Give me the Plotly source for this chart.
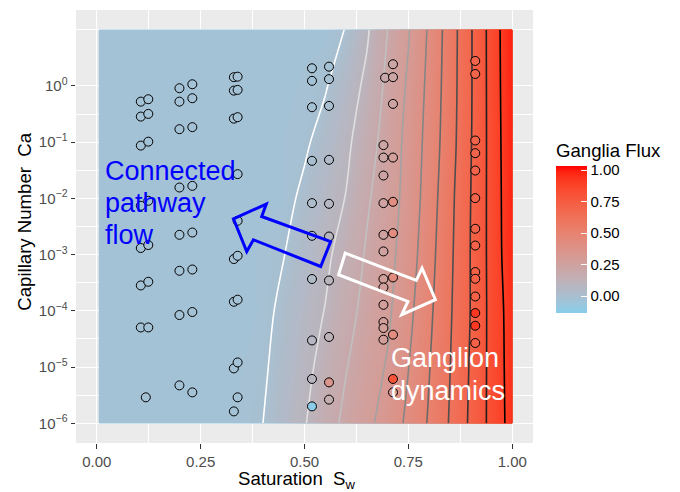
import numpy as np
import plotly.graph_objects as go

# ---------------- data ----------------
# fitted Ganglia-flux surface read off the raster (rows: log10 Ca, columns: Sw)
sw_grid = [0.005, 0.30, 0.35, 0.40, 0.45, 0.50, 0.55, 0.60, 0.65, 0.70, 0.75, 0.80, 0.85, 0.90, 0.95, 1.00]
log_ca_grid = [-6, -5, -4, -3, -2, -1, 0, 1]
flux_grid = [
    [-0.03, -0.03, -0.019, 0.000, 0.047, 0.094, 0.159, 0.222, 0.276, 0.342, 0.420, 0.510, 0.607, 0.717, 0.827, 0.940],
    [-0.03, -0.03, -0.024, -0.011, 0.032, 0.076, 0.130, 0.196, 0.251, 0.309, 0.398, 0.496, 0.598, 0.710, 0.828, 0.945],
    [-0.03, -0.03, -0.030, -0.022, 0.019, 0.060, 0.103, 0.168, 0.228, 0.283, 0.373, 0.480, 0.589, 0.703, 0.829, 0.950],
    [-0.03, -0.03, -0.030, -0.020, -0.002, 0.040, 0.081, 0.140, 0.210, 0.268, 0.350, 0.464, 0.581, 0.703, 0.831, 0.970],
    [-0.03, -0.03, -0.030, -0.030, -0.025, 0.018, 0.060, 0.103, 0.188, 0.255, 0.333, 0.449, 0.573, 0.700, 0.832, 0.975],
    [-0.03, -0.03, -0.030, -0.030, -0.024, -0.013, 0.033, 0.080, 0.155, 0.242, 0.327, 0.436, 0.559, 0.694, 0.833, 0.980],
    [-0.03, -0.03, -0.030, -0.030, -0.030, -0.021, -0.007, 0.052, 0.120, 0.223, 0.313, 0.425, 0.553, 0.691, 0.835, 0.985],
    [-0.03, -0.03, -0.030, -0.030, -0.030, -0.030, -0.030, 0.003, 0.087, 0.200, 0.293, 0.413, 0.549, 0.691, 0.836, 0.990],
]
contour_levels = [0.0, 0.1, 0.2, 0.3, 0.4, 0.5, 0.6, 0.7, 0.8, 0.9]
flux_limits = [-0.135, 1.033]

# measured points
pt_sw = (
    [0.106] * 7 + [0.124] * 7 + [0.118]
    + [0.199] * 8 + [0.230] * 8
    + [0.330] * 7 + [0.339] * 9
    + [0.518] * 10 + [0.559] * 10
    + [0.694] + [0.690] * 12 + [0.713] * 10
    + [0.911] * 14
)
pt_ca = (
    [0.526, 0.285, 0.0869, 0.00738, 0.00131, 2.83e-4, 5.07e-5]
    + [0.580, 0.318, 0.102, 0.00906, 0.00148, 3.29e-4, 5.07e-5] + [2.90e-6]
    + [0.91, 0.526, 0.170, 0.0156, 2.25e-3, 5.16e-4, 8.43e-5, 4.73e-6]
    + [1.07, 0.604, 0.185, 0.0167, 2.47e-3, 5.44e-4, 9.53e-5, 3.55e-6]
    + [1.43, 0.825, 0.262, 8.34e-4, 1.45e-4, 9.48e-6, 1.63e-6]
    + [1.46, 0.849, 0.278, 0.027, 3.99e-3, 9.53e-4, 1.58e-4, 1.21e-5, 2.90e-6]
    + [2.06, 1.23, 0.418, 0.0465, 8.24e-3, 2.16e-3, 3.68e-4, 2.98e-5, 6.15e-6, 2.00e-6]
    + [2.20, 1.32, 0.441, 0.0485, 8.01e-3, 2.10e-3, 3.47e-4, 3.43e-5, 5.35e-6, 2.64e-6]
    + [1.40] + [0.0885, 0.0532, 0.0255, 8.24e-3, 2.25e-3, 1.14e-3, 3.68e-4, 2.61e-4, 1.28e-4, 6.33e-5, 4.95e-5, 3.07e-5]
    + [2.43, 1.43, 0.479, 0.0532, 8.69e-3, 2.41e-3, 3.93e-4, 3.77e-5, 6.15e-6, 3.55e-6]
    + [2.78, 1.63, 0.107, 0.0637, 0.0313, 0.0101, 2.88e-3, 1.45e-3, 4.90e-4, 3.72e-4, 1.80e-4, 9.15e-5, 5.44e-5, 2.68e-5]
)
pt_flux = (
    [-0.03] * 15
    + [-0.03] * 16
    + [-0.03] * 16
    + [-0.03, -0.03, -0.02, 0.00, 0.02, 0.035, 0.045, 0.07, 0.09, -0.12]
    + [-0.02, -0.01, 0.00, 0.04, 0.065, 0.08, 0.095, 0.12, 0.35, 0.15]
    + [0.20] + [0.22, 0.22, 0.23, 0.24, 0.25, 0.25, 0.26, 0.26, 0.27, 0.27, 0.27, 0.28]
    + [0.22, 0.22, 0.23, 0.27, 0.42, 0.42, 0.42, 0.42, 0.80, 0.32]
    + [0.70, 0.70, 0.70, 0.70, 0.70, 0.70, 0.71, 0.71, 0.72, 0.72, 0.72, 0.92, 0.92, 0.72]
)

x_ticks = [0, 0.25, 0.5, 0.75, 1.0]
x_labels = ["0.00", "0.25", "0.50", "0.75", "1.00"]
y_ticks = [1e-6, 1e-5, 1e-4, 1e-3, 1e-2, 1e-1, 1e0]
y_labels = ["10<sup>−6</sup>", "10<sup>−5</sup>", "10<sup>−4</sup>", "10<sup>−3</sup>",
            "10<sup>−2</sup>", "10<sup>−1</sup>", "10<sup>0</sup>"]
cb_ticks = [0, 0.25, 0.5, 0.75, 1.0]
cb_labels = ["0.00", "0.25", "0.50", "0.75", "1.00"]


# ---------------- colour helpers (CIELAB ramps like ggplot) ----------------
def _lin(c):
    return c / 12.92 if c <= 0.04045 else ((c + 0.055) / 1.055) ** 2.4


def _gam(c):
    c = min(max(c, 0.0), 1.0)
    return 12.92 * c if c <= 0.0031308 else 1.055 * c ** (1 / 2.4) - 0.055


WHITE = (0.95047, 1.0, 1.08883)


def rgb2lab(rgb):
    r, g, b = [_lin(v / 255) for v in rgb]
    X = 0.4124564 * r + 0.3575761 * g + 0.1804375 * b
    Y = 0.2126729 * r + 0.7151522 * g + 0.0721750 * b
    Z = 0.0193339 * r + 0.1191920 * g + 0.9503041 * b
    def f(t):
        return t ** (1 / 3) if t > (6 / 29) ** 3 else t / (3 * (6 / 29) ** 2) + 4 / 29
    fx, fy, fz = f(X / WHITE[0]), f(Y / WHITE[1]), f(Z / WHITE[2])
    return (116 * fy - 16, 500 * (fx - fy), 200 * (fy - fz))


def lab2rgb(lab):
    L, a, b = lab
    fy = (L + 16) / 116
    fx = fy + a / 500
    fz = fy - b / 200
    def finv(t):
        return t ** 3 if t > 6 / 29 else 3 * (6 / 29) ** 2 * (t - 4 / 29)
    X, Y, Z = WHITE[0] * finv(fx), WHITE[1] * finv(fy), WHITE[2] * finv(fz)
    r = 3.2404542 * X - 1.5371385 * Y - 0.4985314 * Z
    g = -0.9692660 * X + 1.8760108 * Y + 0.0415560 * Z
    bb = 0.0556434 * X - 0.2040259 * Y + 1.0572252 * Z
    return "rgb(%d,%d,%d)" % tuple(round(255 * _gam(v)) for v in (r, g, bb))


def lab_scale(c0, c1, n=25):
    l0, l1 = rgb2lab(c0), rgb2lab(c1)
    out = []
    for t in np.linspace(0, 1, n):
        out.append([float(t), lab2rgb(tuple(l0[i] + t * (l1[i] - l0[i]) for i in range(3)))])
    return out


fill_scale = lab_scale((135, 206, 235), (255, 0, 0))          # skyblue -> red
line_scale = lab_scale((255, 255, 255), (0, 0, 0), n=len(contour_levels))  # white -> black

lo, hi = flux_limits
nb = 100
bsize = (hi - lo) / nb
FONT = "Liberation Sans, Arial, Helvetica, sans-serif"

fig = go.Figure()

# smooth filled surface (on hidden linear log10 axis "y")
fig.add_trace(go.Contour(
    x=sw_grid, y=log_ca_grid, z=flux_grid, yaxis="y",
    colorscale=fill_scale, showscale=False, hoverinfo="skip",
    autocontour=False,
    contours=dict(coloring="fill", start=lo + bsize / 2, end=lo + bsize / 2 + (nb - 0.6) * bsize, size=bsize),
    line=dict(width=0, smoothing=0),
))

# contour lines coloured by level
fig.add_trace(go.Contour(
    x=sw_grid, y=log_ca_grid, z=flux_grid, yaxis="y",
    colorscale=line_scale, showscale=False, hoverinfo="skip",
    autocontour=False,
    contours=dict(coloring="lines", start=contour_levels[0], end=contour_levels[-1],
                  size=contour_levels[1] - contour_levels[0]),
    line=dict(width=1.6, smoothing=1),
))

# points (on the visible log axis "y2", drawn above the surface)
fig.add_trace(go.Scatter(
    x=pt_sw, y=pt_ca, yaxis="y2", mode="markers", showlegend=False,
    marker=dict(size=9, color=pt_flux, colorscale=fill_scale, cmin=lo, cmax=hi,
                line=dict(color="black", width=1),
                showscale=True,
                colorbar=dict(
                    thickness=31, thicknessmode="pixels",
                    len=173, lenmode="pixels",
                    x=(556 - 76) / 457, xanchor="left",
                    y=(443 - 226.5) / 433, yanchor="middle",
                    xpad=0, ypad=0, outlinewidth=0,
                    tickvals=cb_ticks, ticktext=cb_labels,
                    ticks="inside", tickcolor="white", ticklen=6, tickwidth=1,
                    tickfont=dict(family=FONT, size=15, color="black"),
                    title=dict(text="Ganglia Flux", side="top",
                               font=dict(family=FONT, size=18.6, color="black")),
                )),
))

# block arrows (Sw, log10 Ca)
blue_arrow = [(0.329, -2.363), (0.408, -2.102), (0.397, -2.322), (0.563, -2.767),
              (0.539, -3.211), (0.377, -2.736), (0.361, -2.944)]
white_arrow = [(0.598, -2.973), (0.769, -3.458), (0.783, -3.239), (0.815, -3.802),
               (0.734, -4.069), (0.749, -3.833), (0.582, -3.358)]


def poly(pts):
    return "M " + " L ".join("%g,%g" % p for p in pts) + " Z"


shapes = [
    dict(type="path", path=poly(blue_arrow), xref="x", yref="y",
         line=dict(color="#0000FF", width=3), fillcolor="rgba(0,0,0,0)", layer="above"),
    dict(type="path", path=poly(white_arrow), xref="x", yref="y",
         line=dict(color="white", width=3), fillcolor="rgba(0,0,0,0)", layer="above"),
]

ann = []
for txt, yy in [("Connected", -1.505), ("pathway", -2.081), ("flow", -2.655)]:
    ann.append(dict(text=txt, x=0.0145, y=yy, xref="x", yref="y", xanchor="left", yanchor="middle",
                    showarrow=False, font=dict(family=FONT, size=27, color="#0000FF")))
for txt, yy in [("Ganglion", -4.835), ("dynamics", -5.427)]:
    ann.append(dict(text=txt, x=0.7045, y=yy, xref="x", yref="y", xanchor="left", yanchor="middle",
                    showarrow=False, font=dict(family=FONT, size=27, color="white")))
# axis titles
ann.append(dict(text="Saturation  S<sub>w</sub>", x=(296.7 - 76) / 457, y=(443 - 480) / 433,
                xref="paper", yref="paper", xanchor="center", yanchor="middle", showarrow=False,
                font=dict(family=FONT, size=18.6, color="black")))
ann.append(dict(text="Capillary Number  Ca", x=(25 - 76) / 457, y=(443 - 221.7) / 433, textangle=-90,
                xref="paper", yref="paper", xanchor="center", yanchor="middle", showarrow=False,
                font=dict(family=FONT, size=18.6, color="black")))

fig.update_layout(
    width=680, height=492,
    margin=dict(l=76, r=147, t=10, b=49),
    paper_bgcolor="white", plot_bgcolor="#EBEBEB",
    showlegend=False,
    shapes=shapes, annotations=ann,
    xaxis=dict(range=[-0.05, 1.05], tickvals=x_ticks, ticktext=x_labels,
               showgrid=True, gridcolor="white", gridwidth=1.4, zeroline=False,
               minor=dict(tickvals=[0.125, 0.375, 0.625, 0.875], showgrid=True,
                          gridcolor="white", gridwidth=0.7, ticks=""),
               ticks="outside", ticklen=4.5, tickwidth=1, tickcolor="#333333",
               tickfont=dict(family=FONT, size=15, color="#4D4D4D"), showline=False),
    yaxis=dict(range=[-6.35, 1.35], visible=False, showgrid=False, zeroline=False),
    yaxis2=dict(type="log", range=[-6.35, 1.35], overlaying="y", side="left",
                tickvals=y_ticks, ticktext=y_labels,
                showgrid=True, gridcolor="white", gridwidth=1.4, zeroline=False,
                minor=dict(tickvals=[10 ** (k + 0.5) for k in range(-6, 0)] + [10.0], showgrid=True,
                           gridcolor="white", gridwidth=0.7, ticks=""),
                ticks="outside", ticklen=4.5, tickwidth=1, tickcolor="#333333",
                tickfont=dict(family=FONT, size=15, color="#4D4D4D"), showline=False),
)

fig.write_html("out.html")
